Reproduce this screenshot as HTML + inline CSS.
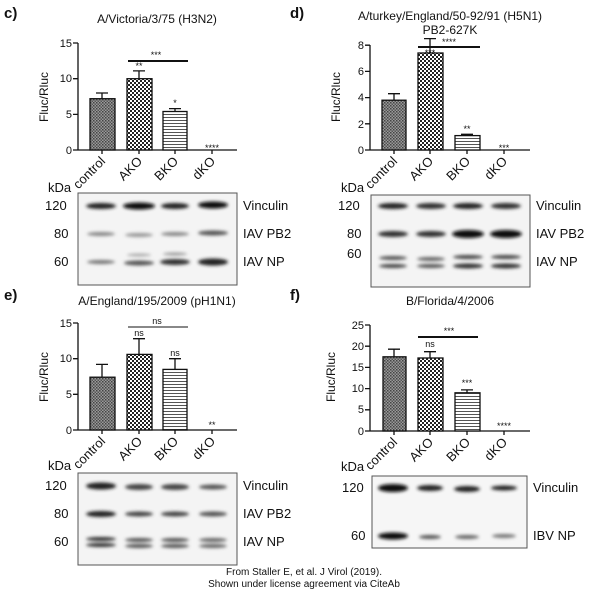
<!DOCTYPE html>
<html><head><meta charset="utf-8"><style>
html,body{margin:0;padding:0;background:#fff}
svg{display:block}
text{font-family:"Liberation Sans",Arial,sans-serif;fill:#111}
</style></head><body>
<svg width="608" height="596" viewBox="0 0 608 596" xmlns="http://www.w3.org/2000/svg">
<defs>
<pattern id="pc" width="3" height="3" patternUnits="userSpaceOnUse"><rect width="3" height="3" fill="#9a9a9a"/><rect width="1.5" height="1.5" fill="#444"/><rect x="1.5" y="1.5" width="1.5" height="1.5" fill="#555"/></pattern>
<pattern id="pa" width="4" height="4" patternUnits="userSpaceOnUse"><rect width="4" height="4" fill="#fff"/><rect width="2" height="2" fill="#222"/><rect x="2" y="2" width="2" height="2" fill="#222"/></pattern>
<pattern id="pb" width="4" height="3" patternUnits="userSpaceOnUse"><rect width="4" height="3" fill="#fff"/><rect width="4" height="1" fill="#555"/></pattern>
<filter id="bl"><feGaussianBlur stdDeviation="1.6"/></filter>
</defs>
<g font-weight="bold" font-size="15"><text x="4" y="18">c)</text><text x="290" y="18">d)</text><text x="4" y="300">e)</text><text x="290" y="300">f)</text></g>

<!-- Panel c -->
<text x="157" y="23" font-size="12" text-anchor="middle">A/Victoria/3/75 (H3N2)</text>
<text transform="translate(48,97) rotate(-90)" font-size="12" text-anchor="middle">Fluc/Rluc</text>
<g stroke="#111" stroke-width="1.3" fill="none">
<path d="M78 43V150H237M73 43H78M73 78.7H78M73 114.4H78M73 150H78M102 150v4M139 150v4M175 150v4M212 150v4"/>
<path d="M102 98.7V93M96 93H108M139 78.7V70.9M133 70.9H145M175 111.5V108.6M169 108.6H181"/>
</g>
<g font-size="11" text-anchor="end"><text x="72" y="47">15</text><text x="72" y="82">10</text><text x="72" y="118">5</text><text x="72" y="154">0</text></g>
<rect x="90" y="98.7" width="25" height="51.3" fill="url(#pc)" stroke="#111" stroke-width="1.3"/>
<rect x="127" y="78.7" width="25" height="71.3" fill="url(#pa)" stroke="#111" stroke-width="1.3"/>
<rect x="163" y="111.5" width="24" height="38.5" fill="url(#pb)" stroke="#111" stroke-width="1.3"/>
<line x1="128" y1="61" x2="188" y2="61" stroke="#111" stroke-width="2"/>
<g font-size="9" text-anchor="middle"><text x="156" y="58">***</text><text x="139" y="69">**</text><text x="175" y="106">*</text><text x="212" y="151">****</text></g>
<g font-size="13" text-anchor="end"><text transform="translate(106,162) rotate(-45)">control</text><text transform="translate(143,162) rotate(-45)">AKO</text><text transform="translate(179,162) rotate(-45)">BKO</text><text transform="translate(216,162) rotate(-45)">dKO</text></g>
<text x="48" y="192" font-size="13">kDa</text>
<rect x="78" y="193" width="159" height="92" fill="#f4f4f4" stroke="#555"/>
<g filter="url(#bl)">
<ellipse cx="101" cy="206" rx="15" ry="3" fill="#222"/><ellipse cx="139" cy="206" rx="16" ry="3.5" fill="#111"/><ellipse cx="175" cy="206" rx="14" ry="3" fill="#222"/><ellipse cx="213" cy="205" rx="15" ry="3.5" fill="#111"/>
<ellipse cx="101" cy="234" rx="14" ry="2" fill="#888"/><ellipse cx="139" cy="235" rx="14" ry="2" fill="#999"/><ellipse cx="175" cy="234" rx="14" ry="2" fill="#888"/><ellipse cx="213" cy="233" rx="15" ry="2.5" fill="#555"/>
<ellipse cx="101" cy="262" rx="14" ry="2" fill="#777"/><ellipse cx="139" cy="263" rx="15" ry="2.5" fill="#555"/><ellipse cx="175" cy="262" rx="15" ry="3" fill="#333"/><ellipse cx="213" cy="262" rx="15" ry="3.5" fill="#222"/>
<ellipse cx="139" cy="255" rx="12" ry="1.5" fill="#aaa"/><ellipse cx="175" cy="254" rx="12" ry="1.5" fill="#999"/>
</g>
<g font-size="13"><text x="45" y="210">120</text><text x="54" y="238">80</text><text x="54" y="266">60</text><text x="243" y="210">Vinculin</text><text x="243" y="238">IAV PB2</text><text x="243" y="266">IAV NP</text></g>

<!-- Panel d -->
<text x="450" y="20" font-size="12" text-anchor="middle">A/turkey/England/50-92/91 (H5N1)</text>
<text x="450" y="34" font-size="12" text-anchor="middle">PB2-627K</text>
<text transform="translate(340,97) rotate(-90)" font-size="12" text-anchor="middle">Fluc/Rluc</text>
<g stroke="#111" stroke-width="1.3" fill="none">
<path d="M370 45V150H530M365 45.2H370M365 71.4H370M365 97.6H370M365 123.8H370M365 150H370M394 150v4M430 150v4M467 150v4M504 150v4"/>
<path d="M394 100.2V93.7M388 93.7H400M430 53V38.6M424 38.6H436M467 135.6V134.3M461 134.3H473"/>
</g>
<g font-size="11" text-anchor="end"><text x="364" y="49">8</text><text x="364" y="75">6</text><text x="364" y="101">4</text><text x="364" y="128">2</text><text x="364" y="154">0</text></g>
<rect x="382" y="100.2" width="24" height="49.8" fill="url(#pc)" stroke="#111" stroke-width="1.3"/>
<rect x="418" y="53" width="25" height="97" fill="url(#pa)" stroke="#111" stroke-width="1.3"/>
<rect x="455" y="135.6" width="25" height="14.4" fill="url(#pb)" stroke="#111" stroke-width="1.3"/>
<line x1="418" y1="47" x2="480" y2="47" stroke="#111" stroke-width="2"/>
<g font-size="9" text-anchor="middle"><text x="449" y="45">****</text><text x="430" y="56">***</text><text x="467" y="132">**</text><text x="504" y="151">***</text></g>
<g font-size="13" text-anchor="end"><text transform="translate(398,162) rotate(-45)">control</text><text transform="translate(434,162) rotate(-45)">AKO</text><text transform="translate(471,162) rotate(-45)">BKO</text><text transform="translate(508,162) rotate(-45)">dKO</text></g>
<text x="341" y="192" font-size="13">kDa</text>
<rect x="371" y="195" width="159" height="92" fill="#f4f4f4" stroke="#555"/>
<g filter="url(#bl)">
<ellipse cx="393" cy="206" rx="15" ry="3" fill="#222"/><ellipse cx="431" cy="206" rx="15" ry="3" fill="#333"/><ellipse cx="468" cy="206" rx="15" ry="3" fill="#222"/><ellipse cx="506" cy="206" rx="15" ry="3" fill="#333"/>
<ellipse cx="393" cy="234" rx="15" ry="3" fill="#333"/><ellipse cx="431" cy="234" rx="15" ry="3" fill="#333"/><ellipse cx="468" cy="234" rx="16" ry="4" fill="#111"/><ellipse cx="506" cy="234" rx="16" ry="4" fill="#111"/>
<ellipse cx="393" cy="258" rx="14" ry="2" fill="#555"/><ellipse cx="431" cy="259" rx="14" ry="2" fill="#666"/><ellipse cx="468" cy="257" rx="15" ry="2" fill="#444"/><ellipse cx="506" cy="257" rx="15" ry="2" fill="#444"/>
<ellipse cx="393" cy="266" rx="14" ry="2" fill="#444"/><ellipse cx="431" cy="266" rx="14" ry="2" fill="#555"/><ellipse cx="468" cy="266" rx="15" ry="2.5" fill="#333"/><ellipse cx="506" cy="266" rx="15" ry="2.5" fill="#333"/>
</g>
<g font-size="13"><text x="338" y="210">120</text><text x="347" y="238">80</text><text x="347" y="258">60</text><text x="536" y="210">Vinculin</text><text x="536" y="238">IAV PB2</text><text x="536" y="266">IAV NP</text></g>

<!-- Panel e -->
<text x="157" y="305" font-size="12" text-anchor="middle">A/England/195/2009 (pH1N1)</text>
<text transform="translate(48,377) rotate(-90)" font-size="12" text-anchor="middle">Fluc/Rluc</text>
<g stroke="#111" stroke-width="1.3" fill="none">
<path d="M78 323V430H237M73 323H78M73 358.7H78M73 394.3H78M73 430H78M102 430v4M139 430v4M175 430v4M212 430v4"/>
<path d="M102 377.2V364.4M96 364.4H108M139 354.4V338.7M133 338.7H145M175 369.4V358.7M169 358.7H181"/>
</g>
<g font-size="11" text-anchor="end"><text x="72" y="327">15</text><text x="72" y="362">10</text><text x="72" y="398">5</text><text x="72" y="434">0</text></g>
<rect x="90" y="377.2" width="25" height="52.8" fill="url(#pc)" stroke="#111" stroke-width="1.3"/>
<rect x="127" y="354.4" width="25" height="75.6" fill="url(#pa)" stroke="#111" stroke-width="1.3"/>
<rect x="163" y="369.4" width="24" height="60.6" fill="url(#pb)" stroke="#111" stroke-width="1.3"/>
<line x1="128" y1="327" x2="188" y2="327" stroke="#111" stroke-width="1"/>
<g font-size="9" text-anchor="middle"><text x="157" y="324">ns</text><text x="139" y="336">ns</text><text x="175" y="356">ns</text><text x="212" y="428">**</text></g>
<g font-size="13" text-anchor="end"><text transform="translate(106,442) rotate(-45)">control</text><text transform="translate(143,442) rotate(-45)">AKO</text><text transform="translate(179,442) rotate(-45)">BKO</text><text transform="translate(216,442) rotate(-45)">dKO</text></g>
<text x="48" y="470" font-size="13">kDa</text>
<rect x="78" y="473" width="159" height="92" fill="#f4f4f4" stroke="#555"/>
<g filter="url(#bl)">
<ellipse cx="101" cy="486" rx="15" ry="3.5" fill="#222"/><ellipse cx="139" cy="487" rx="14" ry="3" fill="#444"/><ellipse cx="175" cy="487" rx="14" ry="3" fill="#444"/><ellipse cx="213" cy="487" rx="14" ry="2.5" fill="#555"/>
<ellipse cx="101" cy="514" rx="15" ry="3" fill="#222"/><ellipse cx="139" cy="514" rx="14" ry="2.5" fill="#444"/><ellipse cx="175" cy="514" rx="14" ry="2.5" fill="#444"/><ellipse cx="213" cy="514" rx="14" ry="2.5" fill="#555"/>
<ellipse cx="101" cy="539" rx="15" ry="2" fill="#333"/><ellipse cx="139" cy="540" rx="14" ry="2" fill="#555"/><ellipse cx="175" cy="540" rx="14" ry="2" fill="#555"/><ellipse cx="213" cy="540" rx="14" ry="2" fill="#666"/>
<ellipse cx="101" cy="545" rx="15" ry="2" fill="#333"/><ellipse cx="139" cy="546" rx="14" ry="2" fill="#555"/><ellipse cx="175" cy="546" rx="14" ry="2" fill="#555"/><ellipse cx="213" cy="546" rx="14" ry="2" fill="#666"/>
</g>
<g font-size="13"><text x="45" y="490">120</text><text x="54" y="518">80</text><text x="54" y="546">60</text><text x="243" y="490">Vinculin</text><text x="243" y="518">IAV PB2</text><text x="243" y="546">IAV NP</text></g>

<!-- Panel f -->
<text x="450" y="305" font-size="12" text-anchor="middle">B/Florida/4/2006</text>
<text transform="translate(335,377) rotate(-90)" font-size="12" text-anchor="middle">Fluc/Rluc</text>
<g stroke="#111" stroke-width="1.3" fill="none">
<path d="M370 325V431H530M365 325H370M365 346.2H370M365 367.4H370M365 388.6H370M365 409.8H370M365 431H370M394 431v4M430 431v4M467 431v4M504 431v4"/>
<path d="M394 356.8V349.2M388 349.2H400M430 358V351.7M424 351.7H436M467 392.8V389.9M461 389.9H473"/>
</g>
<g font-size="11" text-anchor="end"><text x="364" y="329">25</text><text x="364" y="350">20</text><text x="364" y="371">15</text><text x="364" y="392">10</text><text x="364" y="413">5</text><text x="364" y="435">0</text></g>
<rect x="383" y="356.8" width="23" height="74.2" fill="url(#pc)" stroke="#111" stroke-width="1.3"/>
<rect x="418" y="358" width="25" height="73" fill="url(#pa)" stroke="#111" stroke-width="1.3"/>
<rect x="455" y="392.8" width="25" height="38.2" fill="url(#pb)" stroke="#111" stroke-width="1.3"/>
<line x1="418" y1="337" x2="478" y2="337" stroke="#111" stroke-width="2"/>
<g font-size="9" text-anchor="middle"><text x="449" y="334">***</text><text x="430" y="347">ns</text><text x="467" y="386">***</text><text x="504" y="429">****</text></g>
<g font-size="13" text-anchor="end"><text transform="translate(398,443) rotate(-45)">control</text><text transform="translate(434,443) rotate(-45)">AKO</text><text transform="translate(471,443) rotate(-45)">BKO</text><text transform="translate(508,443) rotate(-45)">dKO</text></g>
<text x="341" y="471" font-size="13">kDa</text>
<rect x="372" y="476" width="155" height="72" fill="#f6f6f6" stroke="#555"/>
<g filter="url(#bl)">
<ellipse cx="393" cy="488" rx="15" ry="4" fill="#111"/><ellipse cx="430" cy="488" rx="13" ry="3" fill="#222"/><ellipse cx="467" cy="489" rx="13" ry="3" fill="#222"/><ellipse cx="504" cy="488" rx="13" ry="2.5" fill="#222"/>
<ellipse cx="393" cy="536" rx="15" ry="3.5" fill="#111"/><ellipse cx="430" cy="537" rx="11" ry="2" fill="#555"/><ellipse cx="467" cy="537" rx="12" ry="2" fill="#666"/><ellipse cx="504" cy="536" rx="12" ry="2" fill="#777"/>
</g>
<g font-size="13"><text x="342" y="492">120</text><text x="351" y="540">60</text><text x="533" y="492">Vinculin</text><text x="533" y="540">IBV NP</text></g>

<g font-size="10" text-anchor="middle"><text x="304" y="575">From Staller E, et al. J Virol (2019).</text><text x="304" y="587">Shown under license agreement via CiteAb</text></g>
</svg>
</body></html>
